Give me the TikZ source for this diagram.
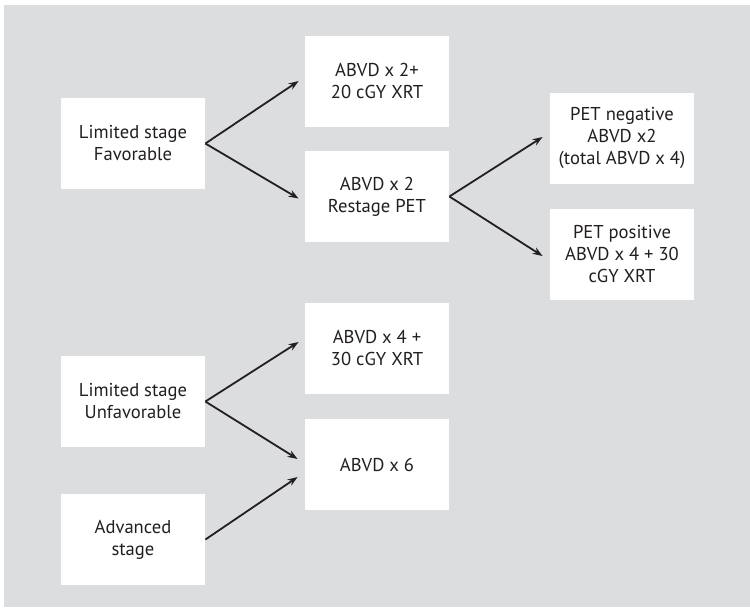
\documentclass[tikz,border=0pt]{standalone}
\usepackage{fontspec}
\setmainfont{PT Sans}
\usepackage{tikz}
\usetikzlibrary{arrows.meta, positioning}
\usepackage{xcolor}
\definecolor{panelgray}{RGB}{220,221,223}
\definecolor{inkdark}{RGB}{35,31,32}

\begin{document}
\begin{tikzpicture}[
    x=0.5pt, y=-0.5pt,
    font=\fontsize{9.3}{11}\selectfont,
    stepbox/.style={fill=white, text=inkdark, align=center, inner sep=0pt,
      minimum width=72pt, minimum height=45.5pt},
    flow/.style={inkdark, line width=0.9pt, -{Stealth[length=5pt, width=3.6pt]}},
  ]

  \def\cx{133} \def\mx{377} \def\rx{622}

  % --- background panel ---
  \useasboundingbox (0,0) rectangle (750,607);
  \fill[panelgray] (4,5) rectangle (750,607);

  % --- left column ---
  \node[stepbox] (fav) at (\cx,143.5) {Limited stage\\Favorable};
  \node[stepbox] (unfav) at (\cx,401.5) {Limited stage\\Unfavorable};
  \node[stepbox] (adv) at (\cx,539.5) {Advanced\\stage};

  % --- middle column ---
  \node[stepbox] (twoxrt) at (\mx,81) {ABVD x 2+\\20 cGY XRT};
  \node[stepbox] (restage) at (\mx,196.5) {ABVD x 2\\Restage PET};
  \node[stepbox] (fourxrt) at (\mx,348) {ABVD x 4 +\\30 cGY XRT};
  \node[stepbox] (six) at (\mx,464.5) {ABVD x 6};

  % --- right column ---
  \node[stepbox] (petneg) at (\rx,138) {PET negative\\ABVD x2\\(total ABVD x 4)};
  \node[stepbox] (petpos) at (\rx,254.5) {PET positive\\ABVD x 4 + 30\\cGY XRT};

  % --- connectors ---
  \draw[flow] (fav.east) -- ([xshift=-3pt]twoxrt.west);
  \draw[flow] (fav.east) -- ([xshift=-3pt, yshift=-1pt]restage.west);
  \draw[flow] (restage.east) -- ([xshift=-3.5pt, yshift=0.5pt]petneg.west);
  \draw[flow] (restage.east) -- ([xshift=-3.5pt, yshift=-0.75pt]petpos.west);
  \draw[flow] (unfav.east) -- ([xshift=-3pt, yshift=3pt]fourxrt.west);
  \draw[flow] (unfav.east) -- ([xshift=-3.5pt, yshift=2.75pt]six.west);
  \draw[flow] (adv.east) -- ([xshift=-3.5pt, yshift=-6.25pt]six.west);

\end{tikzpicture}
\end{document}
